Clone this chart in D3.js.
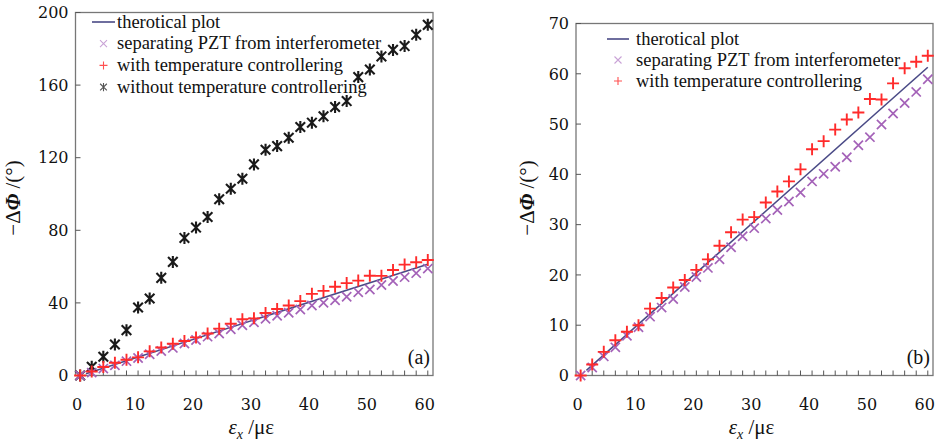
<!DOCTYPE html>
<html>
<head>
<meta charset="utf-8">
<script src="https://cdn.jsdelivr.net/npm/d3@7"></script>
<style>
  body { margin: 0; background: #fff; }
  svg { display: block; }
  text { font-family: "Liberation Serif", "Tinos", "Times New Roman", "Noto Serif", "DejaVu Serif", "FreeSerif", serif; fill: #111; }
  .tick-label { font-family: "DejaVu Serif", "Liberation Serif", "Noto Serif", serif; font-size: 16px; }
</style>
</head>
<body>
<script>
// strain values (με)
const strain = [0, 2, 4, 6, 8, 10, 12, 14, 16, 18, 20, 22, 24, 26, 28, 30,
                32, 34, 36, 38, 40, 42, 44, 46, 48, 50, 52, 54, 56, 58, 60];
// measured phase shift -ΔΦ (°)
const sepPZT = [0, 1.6, 3.8, 5.6, 7.9, 9.6, 11.7, 13.5, 15.2, 17.6, 19.6, 21.4, 23.1, 25.5, 27.7, 29.3,
                31.2, 32.9, 34.6, 36.4, 38.6, 40.1, 41.5, 43.4, 45.8, 47.4, 49.9, 52.1, 54.2, 56.4, 58.9];
const withTemp = [0, 2.2, 4.7, 7.0, 8.7, 10.0, 13.3, 15.4, 17.5, 19.0, 21.0, 23.1, 25.8, 28.5, 31.0, 31.5,
                  34.4, 36.6, 38.6, 41.0, 45.0, 46.6, 48.9, 50.9, 52.3, 55.0, 54.9, 58.1, 61.1, 62.4, 63.6];
const withoutTemp = [0, 4.8, 10.3, 17.1, 25.0, 37.5, 42.4, 53.8, 62.6, 75.8, 81.5, 87.3, 97.1, 102.9, 108.4, 116.3,
                     124.4, 126.4, 131.0, 136.9, 139.3, 142.8, 147.9, 151.2, 164.4, 168.6, 175.8, 179.4, 181.5, 187.7, 193.2];
// theoretical line end points
const theoryX = [1, 60];
const theoryY = [1.0, 61.3];

const xTicks = [0, 10, 20, 30, 40, 50, 60];
const xMinorTicks = [0, 2, 4, 6, 8, 10, 12, 14, 16, 18, 20, 22, 24, 26, 28, 30,
                     32, 34, 36, 38, 40, 42, 44, 46, 48, 50, 52, 54, 56, 58, 60];
const yTicksA = [0, 40, 80, 120, 160, 200];
const yTicksB = [0, 10, 20, 30, 40, 50, 60, 70];

const legendNames = ["therotical plot", "separating PZT from interferometer",
                     "with temperature controllering", "without temperature controllering"];

const lineColor = "#4a4a86";
const pztColor = "#a462b8";
const tempColor = "#ff2b2b";
const noTempColor = "#1a1a1a";

const W = 936, H = 443;
const svg = d3.select("body").append("svg").attr("width", W).attr("height", H);

// marker drawers
const markX = (g, cx, cy, r, color, w) => {
  g.append("path")
    .attr("d", `M${cx - r},${cy - r}L${cx + r},${cy + r}M${cx - r},${cy + r}L${cx + r},${cy - r}`)
    .attr("stroke", color).attr("stroke-width", w).attr("fill", "none");
};
const markPlus = (g, cx, cy, r, color, w) => {
  g.append("path")
    .attr("d", `M${cx - r},${cy}L${cx + r},${cy}M${cx},${cy - r}L${cx},${cy + r}`)
    .attr("stroke", color).attr("stroke-width", w).attr("fill", "none");
};
const markStar = (g, cx, cy, r, color, w) => {
  g.append("path")
    .attr("d", `M${cx - r * 0.8},${cy - r * 0.8}L${cx + r * 0.8},${cy + r * 0.8}M${cx - r * 0.8},${cy + r * 0.8}L${cx + r * 0.8},${cy - r * 0.8}M${cx},${cy - r}L${cx},${cy + r}`)
    .attr("stroke", color).attr("stroke-width", w).attr("fill", "none");
};

function drawPanel(cfg) {
  const x = d3.scaleLinear().domain([-0.8, 60.9]).range([cfg.left, cfg.right]);
  const y = d3.scaleLinear().domain([0, cfg.yMax]).range([cfg.bottom, cfg.top]);
  const g = svg.append("g");

  // frame
  g.append("rect")
    .attr("x", cfg.left).attr("y", cfg.top)
    .attr("width", cfg.right - cfg.left).attr("height", cfg.bottom - cfg.top)
    .attr("fill", "none").attr("stroke", "#777").attr("stroke-width", 1.3);

  // x axis ticks (inward)
  g.append("g").selectAll("line").data(xMinorTicks).enter().append("line")
    .attr("x1", d => x(d)).attr("x2", d => x(d))
    .attr("y1", cfg.bottom).attr("y2", cfg.bottom - 5)
    .attr("stroke", "#555").attr("stroke-width", 1);
  g.append("g").selectAll("text").data(xTicks).enter().append("text")
    .attr("class", "tick-label")
    .attr("x", d => x(d) - 3).attr("y", cfg.bottom + 34)
    .attr("text-anchor", "middle")
    .text(d => d);

  // y axis ticks (inward)
  g.append("g").selectAll("line").data(cfg.yTicks).enter().append("line")
    .attr("x1", cfg.left).attr("x2", cfg.left + 5)
    .attr("y1", d => y(d)).attr("y2", d => y(d))
    .attr("stroke", "#555").attr("stroke-width", 1);
  g.append("g").selectAll("text").data(cfg.yTicks).enter().append("text")
    .attr("class", "tick-label")
    .attr("x", cfg.left - 7).attr("y", d => y(d))
    .attr("dy", "0.36em")
    .attr("text-anchor", "end")
    .text(d => d);

  // theoretical line
  const line = d3.line().x(d => x(d[0])).y(d => y(d[1]));
  g.append("path")
    .datum(theoryX.map((v, i) => [v, theoryY[i]]))
    .attr("d", line).attr("fill", "none")
    .attr("stroke", lineColor).attr("stroke-width", 1.6);

  // markers
  const pts = g.append("g");
  if (cfg.showNoTemp) {
    strain.forEach((s, i) => markStar(pts, x(s), y(withoutTemp[i]), 6, noTempColor, 2.1));
  }
  strain.forEach((s, i) => markX(pts, x(s), y(sepPZT[i]), 4.6, pztColor, 1.7));
  strain.forEach((s, i) => markPlus(pts, x(s), y(withTemp[i]), 6, tempColor, 1.9));

  // legend
  const lg = g.append("g");
  const n = cfg.showNoTemp ? 4 : 3;
  for (let i = 0; i < n; i++) {
    const ly = cfg.legendY + i * cfg.legendStep;
    const cx = (cfg.legendX0 + cfg.legendX1) / 2;
    if (i === 0) {
      lg.append("line").attr("x1", cfg.legendX0).attr("x2", cfg.legendX1)
        .attr("y1", ly).attr("y2", ly)
        .attr("stroke", lineColor).attr("stroke-width", 1.6);
    } else if (i === 1) {
      markX(lg, cx, ly, 3.5, "#c9a2d6", 1.1);
    } else if (i === 2) {
      markPlus(lg, cx, ly, 4, "#ff5050", 1.1);
    } else {
      markStar(lg, cx, ly, 4.2, "#555", 1.1);
    }
    lg.append("text")
      .attr("x", cfg.legendX1 + cfg.textGap).attr("y", ly)
      .attr("dy", "0.3em")
      .style("font-size", "18.5px")
      .text(legendNames[i]);
  }

  // panel tag
  g.append("text")
    .attr("x", cfg.right - 3).attr("y", cfg.bottom - 12)
    .attr("text-anchor", "end")
    .style("font-size", "20px")
    .text(cfg.tag);

  // axis titles
  const xt = g.append("text")
    .attr("x", (cfg.left + cfg.right) / 2 - 3).attr("y", cfg.bottom + 58)
    .attr("text-anchor", "middle")
    .style("font-size", "21px");
  xt.append("tspan").style("font-style", "italic").text("ε");
  xt.append("tspan").style("font-style", "italic").style("font-size", "14px").attr("dy", 5).text("x");
  xt.append("tspan").attr("dy", -5).text(" /με");

  const yt = g.append("text")
    .attr("transform", `translate(${cfg.yTitleX},198) rotate(-90)`)
    .attr("text-anchor", "middle")
    .attr("dy", "0.35em")
    .style("font-size", "21px");
  yt.append("tspan").text("−Δ");
  yt.append("tspan").style("font-style", "italic").style("font-weight", "bold").text("Φ");
  yt.append("tspan").text(" /(°)");
}

drawPanel({
  left: 75.5, right: 433, top: 12.5, bottom: 375.5, yMax: 200, yTicks: yTicksA,
  showNoTemp: true, tag: "(a)", yTitleX: 13,
  legendX0: 92, legendX1: 115, legendY: 22, legendStep: 21.7, textGap: 2
});
drawPanel({
  left: 576, right: 933, top: 23.5, bottom: 375.5, yMax: 70, yTicks: yTicksB,
  showNoTemp: false, tag: "(b)", yTitleX: 527,
  legendX0: 607, legendX1: 629, legendY: 39, legendStep: 21, textGap: 7
});
</script>
</body>
</html>
